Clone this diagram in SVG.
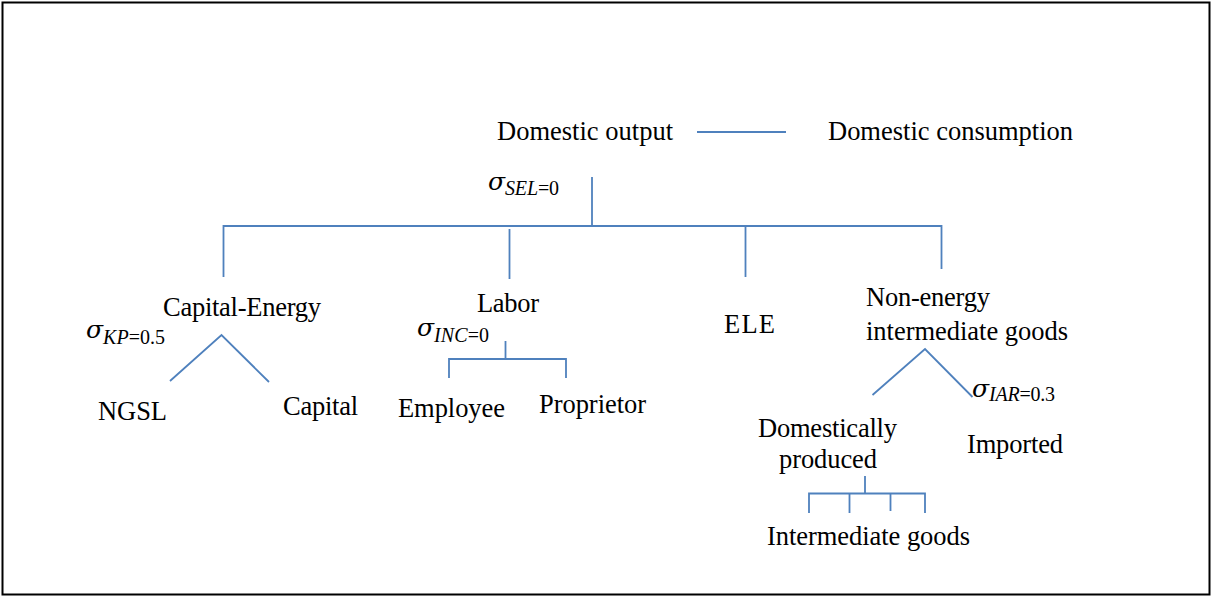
<svg xmlns="http://www.w3.org/2000/svg" width="1212" height="597" viewBox="0 0 1212 597">
  <style>
    .lbl { font-family: "Liberation Serif", "Times New Roman", serif; font-size: 26.5px; fill: #000; }
    .sig { font-family: "DejaVu Serif", "Liberation Serif", serif; font-style: italic; font-size: 25px; fill: #000; }
    .sub { font-family: "Liberation Serif", "DejaVu Serif", serif; font-size: 20px; fill: #000; }
    .it { font-style: italic; }
    .ln { stroke: #4f81bd; stroke-width: 1.8; fill: none; }
  </style>
  <rect x="2.5" y="2.5" width="1207" height="592" fill="#fff" stroke="#000" stroke-width="2"/>

  <!-- connectors -->
  <g id="connectors" class="ln">
    <line x1="697" y1="132" x2="786" y2="132"/>
    <line x1="592" y1="177" x2="592" y2="226"/>
    <polyline points="223.5,277 223.5,226 941.5,226 941.5,269"/>
    <line x1="509.5" y1="229" x2="509.5" y2="279"/>
    <line x1="745.5" y1="226" x2="745.5" y2="277"/>
    <polyline points="170,381 221.5,335 269,382"/>
    <line x1="505.5" y1="341" x2="505.5" y2="359"/>
    <polyline points="449,378 449,359 566,359 566,378"/>
    <polyline points="872.5,395 925,349 972.5,397"/>
    <line x1="865" y1="476" x2="865" y2="493.5"/>
    <polyline points="809,513 809,493.5 925,493.5 925,513"/>
    <line x1="849.5" y1="493.5" x2="849.5" y2="513"/>
    <line x1="890.5" y1="493.5" x2="890.5" y2="511"/>
  </g>

  <g id="domestic-output"><text class="lbl" x="497" y="140" textLength="176">Domestic output</text></g>
  <g id="domestic-consumption"><text class="lbl" x="828" y="140" textLength="245">Domestic consumption</text></g>

  <g id="sigma-sel">
    <text class="sig" x="488" y="190">σ</text>
    <text class="sub" x="505" y="195" textLength="54"><tspan class="it">SEL</tspan>=0</text>
  </g>

  <g id="capital-energy"><text class="lbl" x="163" y="316" textLength="158">Capital-Energy</text></g>
  <g id="sigma-kp">
    <text class="sig" x="86" y="338">σ</text>
    <text class="sub" x="103" y="344" textLength="62"><tspan class="it">KP</tspan>=0.5</text>
  </g>
  <g id="ngsl"><text class="lbl" x="98" y="420" textLength="69">NGSL</text></g>
  <g id="capital"><text class="lbl" x="283" y="415" textLength="75">Capital</text></g>

  <g id="labor"><text class="lbl" x="477" y="312" textLength="62">Labor</text></g>
  <g id="sigma-inc">
    <text class="sig" x="417" y="336">σ</text>
    <text class="sub" x="434" y="342" textLength="55"><tspan class="it">INC</tspan>=0</text>
  </g>
  <g id="employee"><text class="lbl" x="398" y="417" textLength="107">Employee</text></g>
  <g id="proprietor"><text class="lbl" x="539" y="413" textLength="107">Proprietor</text></g>

  <g id="ele"><text class="lbl" x="724" y="333" textLength="51">ELE</text></g>

  <g id="non-energy">
    <text class="lbl" x="866" y="306" textLength="124">Non-energy</text>
    <text class="lbl" x="866" y="340" textLength="202">intermediate goods</text>
  </g>
  <g id="sigma-iar">
    <text class="sig" x="972" y="397">σ</text>
    <text class="sub" x="989" y="401" textLength="66"><tspan class="it">IAR</tspan>=0.3</text>
  </g>
  <g id="domestically-produced">
    <text class="lbl" x="758" y="437" textLength="139">Domestically</text>
    <text class="lbl" x="779" y="468" textLength="98">produced</text>
  </g>
  <g id="imported"><text class="lbl" x="967" y="453" textLength="96">Imported</text></g>
  <g id="intermediate-goods"><text class="lbl" x="767" y="545" textLength="203">Intermediate goods</text></g>
</svg>
